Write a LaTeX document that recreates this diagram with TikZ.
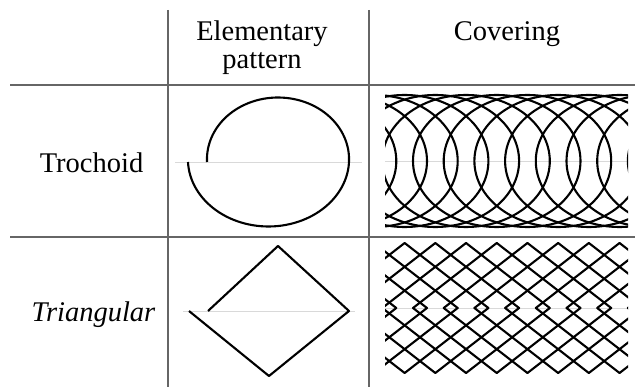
\documentclass[tikz,border=0pt]{standalone}
\usepackage{fontspec}
\setmainfont{Liberation Serif}
\begin{document}
\begin{tikzpicture}[x=1pt,y=-1pt,
  grid/.style={draw=black!60},
  axisline/.style={draw=black!15,line width=0.9pt},
  curve/.style={draw=black,line width=2.1pt,line join=round},
  lbl/.style={font=\fontsize{28.5}{30}\selectfont,inner sep=0pt,anchor=base}]
\useasboundingbox (0,0) rectangle (635,387);
% table
\draw[grid,line width=1.1pt] (168,10) -- (168,387);
\draw[grid,line width=1.1pt] (369,10) -- (369,387);
\draw[grid,line width=1.7pt] (10,85) -- (635,85);
\draw[grid,line width=1.7pt] (10,237) -- (635,237);
% labels
\node[lbl] (h1) at (262,41) {Elementary};
\node[lbl] (h2) at (262,68.5) {pattern};
\node[lbl] (h3) at (507,41) {Covering};
\node[lbl] (r1) at (91.5,173) {Trochoid};
\node[lbl,font=\fontsize{28.5}{30}\selectfont\itshape] (r2) at (93.5,322) {Triangular};
% axis lines
\draw[axisline] (175,162) -- (362,162);
\draw[axisline] (385,161) -- (628,161);
\draw[axisline] (183,311) -- (355,311);
\draw[axisline] (385,308) -- (628,308);
% elementary trochoid
\draw[curve] plot[domain=0:360,samples=120,smooth] ({282.75-19*\x/360-75.75*cos(\x)},{162-64.5*sin(\x)});
% elementary triangular
\draw[curve] (208,311) -- (278,246) -- (349,311) -- (269,376) -- (189,311);
% covering trochoid
\begin{scope}
\clip (385,90) rectangle (628,232);
\foreach \k in {-7,...,7}
  \draw[curve] ({496.75+30.7*\k},161) ellipse [x radius=83.75pt, y radius=66pt];
\end{scope}
% covering triangular
\begin{scope}
\clip (385,238) rectangle (628,380);
\foreach \k in {-7,...,7}
  \draw[curve] ({496.75+30.7*\k-83.75},308) -- ({496.75+30.7*\k},243) -- ({496.75+30.7*\k+83.75},308) -- ({496.75+30.7*\k},373) -- cycle;
\end{scope}
\end{tikzpicture}
\end{document}
